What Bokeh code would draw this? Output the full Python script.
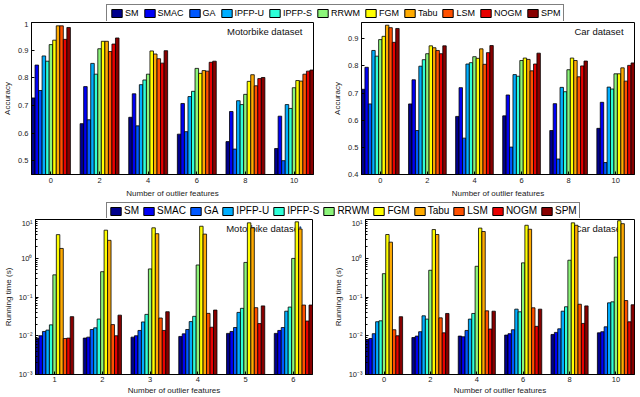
import math
from bokeh.plotting import figure
from bokeh.layouts import column, row
from bokeh.models import (Range1d, FixedTicker, SingleIntervalTicker,
                          CustomJSTickFormatter, Legend, LegendItem, ColumnDataSource)
from bokeh.transform import dodge
from bokeh.core.properties import value
from bokeh.embed import file_html
from bokeh.resources import INLINE

FONT = "Liberation Sans"

methods = ["SM", "SMAC", "GA", "IPFP-U", "IPFP-S", "RRWM", "FGM", "Tabu", "LSM", "NOGM", "SPM"]
colors = ["#00008C", "#0000F5", "#0058FF", "#00AEFF", "#2EFFD8", "#8CF57A",
          "#FFFF00", "#FFAA00", "#FF5000", "#E80000", "#880000"]

groups_acc = [0, 2, 4, 6, 8, 10]
groups_time_mb = [1, 2, 3, 4, 5, 6]
groups_time_car = [0, 2, 4, 6, 8, 10]

# rows follow `methods`, columns follow the groups
acc_motorbike = [
    [0.727, 0.634, 0.657, 0.596, 0.569, 0.544],
    [0.846, 0.768, 0.742, 0.707, 0.678, 0.661],
    [0.754, 0.648, 0.626, 0.605, 0.542, 0.500],
    [0.879, 0.852, 0.775, 0.732, 0.717, 0.703],
    [0.860, 0.813, 0.792, 0.751, 0.703, 0.689],
    [0.920, 0.905, 0.813, 0.834, 0.740, 0.764],
    [0.936, 0.932, 0.897, 0.816, 0.787, 0.790],
    [0.988, 0.932, 0.886, 0.826, 0.811, 0.788],
    [0.988, 0.895, 0.869, 0.824, 0.771, 0.813],
    [0.939, 0.922, 0.853, 0.856, 0.797, 0.824],
    [0.982, 0.944, 0.898, 0.860, 0.801, 0.828],
]
acc_car = [
    [0.714, 0.660, 0.614, 0.616, 0.562, 0.570],
    [0.795, 0.749, 0.720, 0.693, 0.661, 0.666],
    [0.660, 0.562, 0.534, 0.501, 0.457, 0.444],
    [0.857, 0.799, 0.807, 0.768, 0.721, 0.722],
    [0.836, 0.823, 0.812, 0.762, 0.705, 0.715],
    [0.897, 0.845, 0.834, 0.820, 0.786, 0.771],
    [0.909, 0.874, 0.828, 0.829, 0.829, 0.771],
    [0.950, 0.867, 0.863, 0.824, 0.820, 0.793],
    [0.941, 0.857, 0.806, 0.782, 0.760, 0.744],
    [0.887, 0.845, 0.849, 0.807, 0.800, 0.802],
    [0.938, 0.874, 0.875, 0.847, 0.818, 0.811],
]
time_motorbike = [
    [0.0085, 0.0087, 0.0092, 0.0096, 0.0115, 0.0115],
    [0.0100, 0.0092, 0.0100, 0.0112, 0.0129, 0.0137],
    [0.0129, 0.0145, 0.0137, 0.0145, 0.0163, 0.0163],
    [0.0140, 0.0160, 0.0227, 0.0232, 0.0400, 0.0430],
    [0.0191, 0.0270, 0.0356, 0.0317, 0.0510, 0.0550],
    [0.373, 0.450, 0.530, 0.670, 0.780, 0.990],
    [4.07, 5.3, 6.1, 6.7, 8.2, 8.7],
    [1.79, 2.9, 4.3, 4.2, 6.1, 5.7],
    [0.0085, 0.0194, 0.0287, 0.0378, 0.0530, 0.0620],
    [0.0087, 0.0100, 0.0137, 0.0166, 0.0206, 0.0240],
    [0.0311, 0.0340, 0.0417, 0.0460, 0.0590, 0.0620],
]
time_car = [
    [0.0080, 0.0090, 0.0098, 0.0104, 0.0108, 0.0119],
    [0.0085, 0.0098, 0.0094, 0.0113, 0.0122, 0.0127],
    [0.0113, 0.0127, 0.0137, 0.0143, 0.0151, 0.0170],
    [0.0230, 0.0327, 0.0269, 0.0486, 0.0430, 0.0707],
    [0.0243, 0.0269, 0.0376, 0.0415, 0.0560, 0.0750],
    [0.40, 0.49, 0.62, 0.76, 0.89, 1.07],
    [4.1, 5.5, 6.0, 7.1, 8.2, 9.3],
    [2.6, 4.1, 4.9, 5.6, 7.1, 7.8],
    [0.0143, 0.0290, 0.0440, 0.0526, 0.0650, 0.0810],
    [0.0100, 0.0119, 0.0149, 0.0175, 0.0208, 0.0229],
    [0.0310, 0.0376, 0.0430, 0.0486, 0.0590, 0.0630],
]

xlabel = "Number of outlier features"
LIN_FMT = "return (Math.round(tick*10)/10).toString();"
LOG_FMT = """
const sup = {"-":"\u207b","0":"\u2070","1":"\u00b9","2":"\u00b2","3":"\u00b3","4":"\u2074",
             "5":"\u2075","6":"\u2076","7":"\u2077","8":"\u2078","9":"\u2079"};
const e = Math.round(Math.log10(tick));
return "10" + String(e).split("").map(c => sup[c]).join("");
"""


def style_axis(ax, log=False, lab_standoff=3, axlab_standoff=3):
    ax.axis_line_color = "black"
    ax.major_tick_in = 3
    ax.major_tick_out = 0
    ax.major_tick_line_color = "black"
    if log:
        ax.minor_tick_in = 2
        ax.minor_tick_out = 0
        ax.minor_tick_line_color = "black"
    else:
        ax.minor_tick_line_color = None
    ax.major_label_text_font = FONT
    ax.major_label_text_color = "#222222"
    ax.major_label_text_font_size = "7.5px"
    ax.major_label_standoff = lab_standoff
    ax.axis_label_text_font = FONT
    ax.axis_label_text_font_size = "8px"
    ax.axis_label_text_font_style = "normal"
    ax.axis_label_text_color = "#222222"
    ax.axis_label_standoff = axlab_standoff


def make_chart(groups, data, spacing, y0, y1, log, title, ylabel,
               width, height, bl, br, bt, bb, xs=(3, 3)):
    x0 = groups[0] - 0.4 * spacing
    x1 = groups[-1] + 0.4 * spacing
    p = figure(width=width, height=height, x_range=Range1d(x0, x1), y_range=Range1d(y0, y1),
               y_axis_type="log" if log else "linear", output_backend="svg",
               toolbar_location=None, min_border_left=bl, min_border_right=br,
               min_border_top=bt, min_border_bottom=bb)
    p.background_fill_color = "white"
    p.border_fill_color = "white"
    p.outline_line_color = "black"
    p.outline_line_width = 1
    p.xgrid.visible = False
    p.ygrid.visible = False

    fw = width - bl - br
    fh = height - bt - bb
    tx = x1 - 11 * (x1 - x0) / fw
    if log:
        ty = 10 ** (math.log10(y1) - 3.5 * (math.log10(y1) - math.log10(y0)) / fh)
    else:
        ty = y1 - 3.5 * (y1 - y0) / fh
    p.text(x=[tx], y=[ty], text=[title], text_align="right", text_baseline="top",
           text_font=value(FONT), text_font_size="9.5px", text_color="#111111")

    src = {"x": groups}
    for i in range(len(methods)):
        src["m%d" % i] = data[i]
    source = ColumnDataSource(src)
    bw = 0.8 * spacing / len(methods)
    for i in range(len(methods)):
        off = (i - (len(methods) - 1) / 2) * bw
        p.vbar(x=dodge("x", off, range=p.x_range), top="m%d" % i, bottom=y0, width=bw,
               fill_color=colors[i], line_color="black", line_width=0.8, source=source)

    p.xaxis.ticker = FixedTicker(ticks=groups)
    p.xaxis.axis_label = xlabel
    p.yaxis.axis_label = ylabel
    if log:
        p.yaxis.formatter = CustomJSTickFormatter(code=LOG_FMT)
    else:
        p.yaxis.ticker = SingleIntervalTicker(interval=0.1, num_minor_ticks=0)
        p.yaxis.formatter = CustomJSTickFormatter(code=LIN_FMT)
    for ax in p.xaxis:
        style_axis(ax, False, xs[0], xs[1])
    for ax in p.yaxis:
        style_axis(ax, log, 3, 3)
    return p


def legend_fig(width, height, left, top, font_size, spacing, padding):
    lf = figure(width=width, height=height, x_range=Range1d(0, 1), y_range=Range1d(0, 1),
                toolbar_location=None, output_backend="svg", min_border=0,
                min_border_left=left, min_border_top=top,
                x_axis_location=None, y_axis_location=None)
    lf.grid.visible = False
    lf.outline_line_color = None
    lf.background_fill_color = "white"
    lf.border_fill_color = "white"
    items = []
    for i, m in enumerate(methods):
        # one point outside the visible range, so that only the legend swatch shows
        r = lf.vbar(x=[-5], top=[-5], bottom=[-6], width=0.1, fill_color=colors[i],
                    line_color="black", line_width=1)
        items.append(LegendItem(label=m, renderers=[r]))
    leg = Legend(items=items, orientation="horizontal", location="top_left",
                 glyph_width=13, glyph_height=10, label_standoff=2, spacing=spacing,
                 padding=padding, margin=0, label_width=0, label_height=10,
                 label_text_font=FONT, label_text_font_size=font_size,
                 label_text_color="black", border_line_color="black", border_line_width=1,
                 background_fill_color="white")
    lf.add_layout(leg)
    return lf


leg1 = legend_fig(640, 21, 99, 4, "9px", 4, 3)
p1 = make_chart(groups_acc, acc_motorbike, 2, 0.45, 1.0, False, "Motorbike dataset",
                "Accuracy", 330, 179, 31, 17, 1, 23)
p2 = make_chart(groups_acc, acc_car, 2, 0.4, 0.96, False, "Car dataset",
                "Accuracy", 310, 179, 30, 6, 1, 23)
leg2 = legend_fig(640, 18, 106, 2, "10px", 3, 2)
p3 = make_chart(groups_time_mb, time_motorbike, 1, 1e-3, 1e1, True, "Motorbike dataset",
                "Running time (s)", 330, 179, 30, 18, 1, 21, xs=(2, 1))
p4 = make_chart(groups_time_car, time_car, 2, 1e-3, 1e1, True, "Car dataset",
                "Running time (s)", 310, 179, 29, 6, 1, 21, xs=(2, 1))

layout = column(leg1, row(p1, p2), leg2, row(p3, p4))
open("out.html", "w").write(file_html(layout, INLINE))
